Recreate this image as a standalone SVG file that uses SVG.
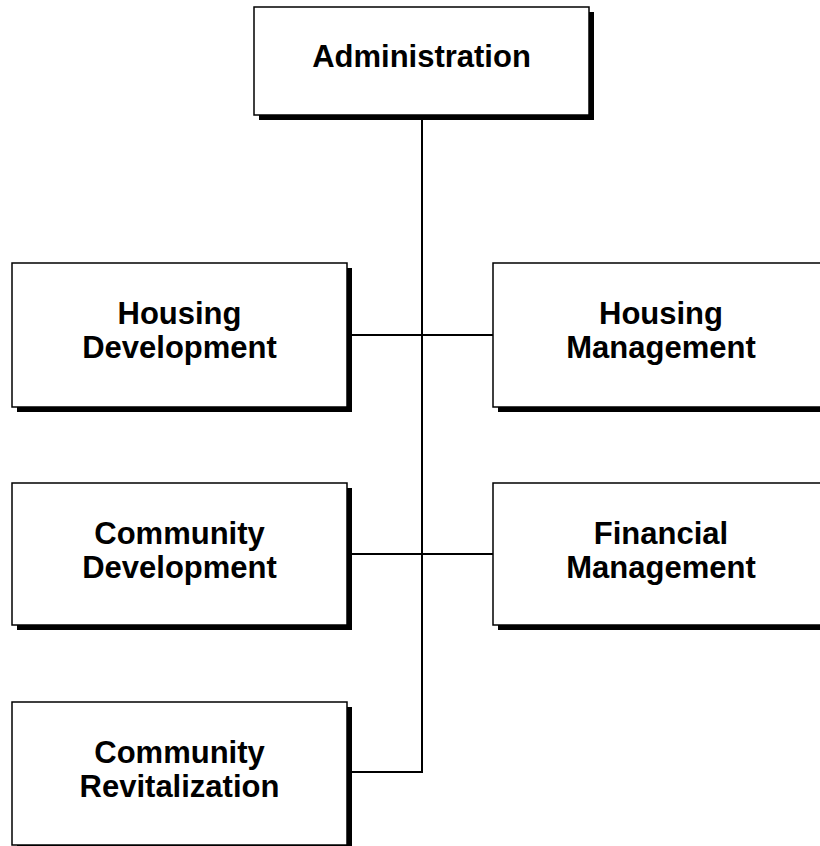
<svg xmlns="http://www.w3.org/2000/svg" width="820" height="846" viewBox="0 0 820 846">
  <style>
    .shadow { fill: #000; }
    .box { fill: #fff; stroke: #000; stroke-width: 1.5; }
    .label { font-family: "Liberation Sans", Arial, sans-serif; font-weight: bold; font-size: 31px; fill: #000; text-anchor: middle; }
    .conn { stroke: #000; stroke-width: 2; fill: none; }
  </style>
  <rect width="820" height="846" fill="#fff"/>
  <g id="connectors">
    <path class="conn" d="M422 115 V772 H347"/>
    <path class="conn" d="M347 335 H493"/>
    <path class="conn" d="M347 554 H493"/>
  </g>
  <g id="administration">
    <rect class="shadow" x="259" y="12" width="335" height="108"/>
    <rect class="box" x="254" y="7" width="335" height="108"/>
    <text class="label" x="421.5" y="67">Administration</text>
  </g>
  <g id="housing-development">
    <rect class="shadow" x="17" y="268" width="335" height="144"/>
    <rect class="box" x="12" y="263" width="335" height="144"/>
    <text class="label" x="179.5" y="323.5">Housing</text>
    <text class="label" x="179.5" y="357.5">Development</text>
  </g>
  <g id="housing-management">
    <rect class="shadow" x="498" y="268" width="336" height="144"/>
    <rect class="box" x="493" y="263" width="336" height="144"/>
    <text class="label" x="661" y="323.5">Housing</text>
    <text class="label" x="661" y="357.5">Management</text>
  </g>
  <g id="community-development">
    <rect class="shadow" x="17" y="488" width="335" height="142"/>
    <rect class="box" x="12" y="483" width="335" height="142"/>
    <text class="label" x="179.5" y="543.5">Community</text>
    <text class="label" x="179.5" y="577.5">Development</text>
  </g>
  <g id="financial-management">
    <rect class="shadow" x="498" y="488" width="336" height="142"/>
    <rect class="box" x="493" y="483" width="336" height="142"/>
    <text class="label" x="661" y="543.5">Financial</text>
    <text class="label" x="661" y="577.5">Management</text>
  </g>
  <g id="community-revitalization">
    <rect class="shadow" x="17" y="707" width="335" height="143"/>
    <rect class="box" x="12" y="702" width="335" height="143"/>
    <text class="label" x="179.5" y="762.5">Community</text>
    <text class="label" x="179.5" y="796.5">Revitalization</text>
  </g>
</svg>
